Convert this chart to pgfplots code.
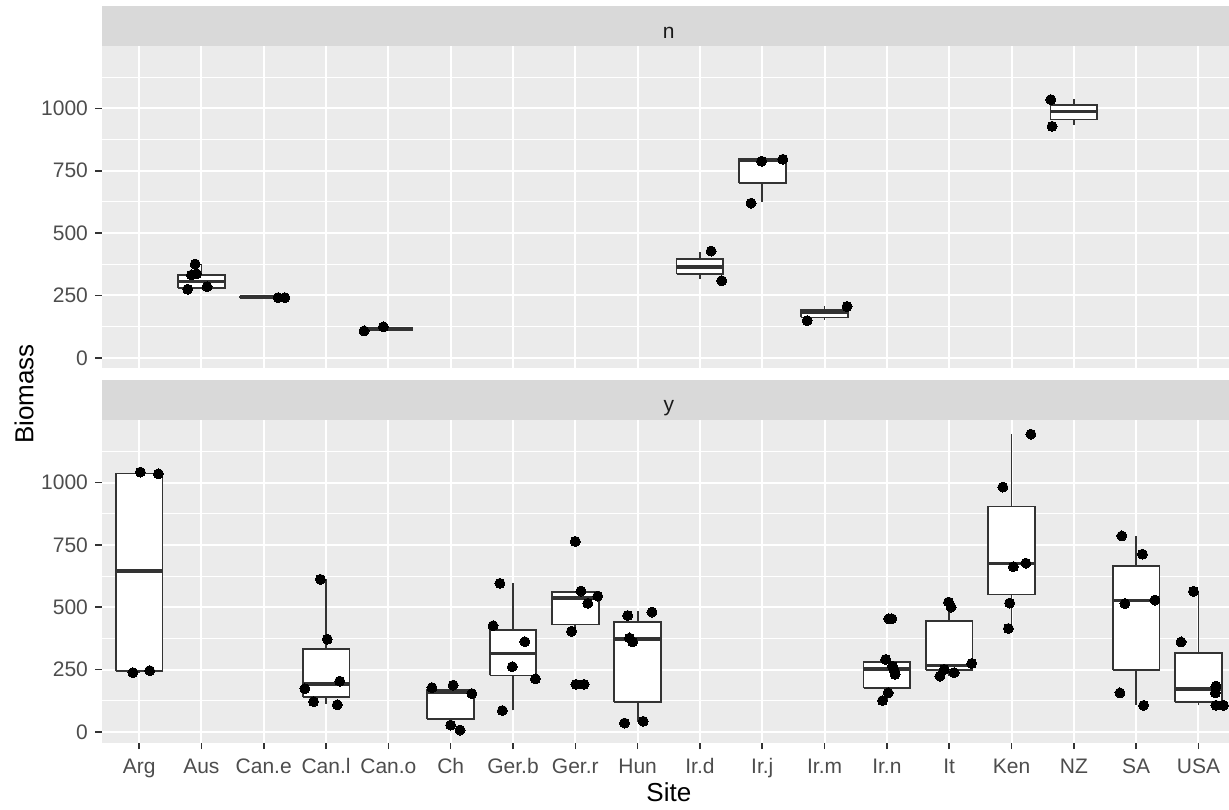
\documentclass[border=0pt]{standalone}
\usepackage{fontspec}
\setmainfont{Liberation Sans}
\usepackage{pgfplots}
\pgfplotsset{compat=1.18}
\definecolor{panelbg}{HTML}{EBEBEB}
\definecolor{stripbg}{HTML}{D9D9D9}
\definecolor{gray30}{HTML}{4D4D4D}
\definecolor{gray20}{HTML}{333333}
\definecolor{gray10}{HTML}{1A1A1A}
\pgfplotsset{
  facet/.style={
    scale only axis, width=563.65pt, height=161.15pt,
    anchor=south west,
    xmin=-0.6, xmax=17.49, ymin=-42, ymax=1250,
    axis background/.style={fill=panelbg},
    axis line style={draw=none},
    tick pos=left, tick align=outside,
    major tick length=3.3pt, minor tick length=0pt,
    every tick/.style={gray20, line width=0.8pt},
    xtick={0,...,17},
    ytick={0,250,500,750,1000},
    yticklabels={0,250,500,750,1000},
    minor ytick={125,375,625,875,1125},
    grid=both,
    major grid style={white, line width=1pt},
    minor grid style={white, line width=0.5pt},
    /pgf/number format/assume math mode=true,
    yticklabel style={font=\fontsize{10.5}{12}\selectfont, text=gray30, anchor=east, inner sep=0pt, xshift=-3.4pt},
    unbounded coords=jump,
  },
  whisk/.style={draw=gray20, line width=0.9pt, mark=none},
  boxs/.style={draw=gray20, fill=white, line width=0.9pt, mark=none},
  med/.style={draw=gray20, line width=1.8pt, mark=none},
  pts/.style={only marks, mark=*, mark size=2.5pt, mark options={draw=black, fill=black, line width=0pt}},
}
\begin{document}
\begin{tikzpicture}
\useasboundingbox (0,0) rectangle (614.5pt,404.5pt);
% ---------- top panel: n ----------
% site index: Aus 1, Can.e 2, Can.o 4, Ir.d 9, Ir.j 10, Ir.m 11, NZ 15
\begin{axis}[facet, at={(50.85pt,220.35pt)}, xticklabels={}, xtick style={draw=none}]
\addplot[whisk] coordinates {
(1,275) (1,376) (nan,nan)
(2,241) (2,245) (nan,nan)
(4,108) (4,124) (nan,nan)
(9,316) (9,426) (nan,nan)
(10,624) (10,796) (nan,nan)
(11,152) (11,206) (nan,nan)
(15,934) (15,1036)
};
\addplot[boxs] coordinates {
(0.625,279) (1.375,279) (1.375,332) (0.625,332) (0.625,279) (nan,nan)
(1.625,242) (2.375,242) (2.375,244) (1.625,244) (1.625,242) (nan,nan)
(3.625,112) (4.375,112) (4.375,120) (3.625,120) (3.625,112) (nan,nan)
(8.625,336) (9.375,336) (9.375,396) (8.625,396) (8.625,336) (nan,nan)
(9.625,702) (10.375,702) (10.375,796) (9.625,796) (9.625,702) (nan,nan)
(10.625,162) (11.375,162) (11.375,193) (10.625,193) (10.625,162) (nan,nan)
(14.625,955) (15.375,955) (15.375,1015) (14.625,1015) (14.625,955)
};
\addplot[med] coordinates {
(0.625,306) (1.375,306) (nan,nan)
(1.625,243) (2.375,243) (nan,nan)
(3.625,116) (4.375,116) (nan,nan)
(8.625,365) (9.375,365) (nan,nan)
(9.625,792) (10.375,792) (nan,nan)
(10.625,181) (11.375,181) (nan,nan)
(14.625,988) (15.375,988)
};
\addplot[pts] coordinates {
(0.78,275) (1.09,285) (0.84,332) (0.92,337) (0.90,376)
(2.23,241) (2.34,241)
(3.61,108) (3.92,124)
(9.18,428) (9.35,309)
(9.99,788) (10.33,796) (9.82,620)
(11.36,206) (10.72,149)
(14.63,1035) (14.65,928)
};
\end{axis}
% ---------- bottom panel: y ----------
% site index: Arg 0, Can.l 3, Ch 5, Ger.b 6, Ger.r 7, Hun 8, Ir.n 12, It 13, Ken 14, SA 16, USA 17
\begin{axis}[facet, at={(50.85pt,33.25pt)},
  xticklabels={Arg,Aus,Can.e,Can.l,Can.o,Ch,Ger.b,Ger.r,Hun,Ir.d,Ir.j,Ir.m,Ir.n,It,Ken,NZ,SA,USA},
  xticklabel style={font=\fontsize{10.5}{12}\selectfont, text=gray30, anchor=base, inner sep=0pt, yshift=-12.1pt}]
\addplot[whisk] coordinates {
(0,238) (0,1042) (nan,nan)
(3,114) (3,612) (nan,nan)
(5,12) (5,190) (nan,nan)
(6,87) (6,596) (nan,nan)
(7,404) (7,566) (nan,nan)
(8,40) (8,484) (nan,nan)
(12,127) (12,292) (nan,nan)
(13,225) (13,505) (nan,nan)
(14,416) (14,1196) (nan,nan)
(16,110) (16,786) (nan,nan)
(17,108) (17,564)
};
\addplot[boxs] coordinates {
(-0.375,246) (0.375,246) (0.375,1036) (-0.375,1036) (-0.375,246) (nan,nan)
(2.625,140) (3.375,140) (3.375,332) (2.625,332) (2.625,140) (nan,nan)
(4.625,52) (5.375,52) (5.375,170) (4.625,170) (4.625,52) (nan,nan)
(5.625,227) (6.375,227) (6.375,410) (5.625,410) (5.625,227) (nan,nan)
(6.625,431) (7.375,431) (7.375,560) (6.625,560) (6.625,431) (nan,nan)
(7.625,119) (8.375,119) (8.375,440) (7.625,440) (7.625,119) (nan,nan)
(11.625,176) (12.375,176) (12.375,282) (11.625,282) (11.625,176) (nan,nan)
(12.625,248) (13.375,248) (13.375,444) (12.625,444) (12.625,248) (nan,nan)
(13.625,551) (14.375,551) (14.375,904) (13.625,904) (13.625,551) (nan,nan)
(15.625,248) (16.375,248) (16.375,665) (15.625,665) (15.625,248) (nan,nan)
(16.625,119) (17.375,119) (17.375,318) (16.625,318) (16.625,119)
};
\addplot[med] coordinates {
(-0.375,645) (0.375,645) (nan,nan)
(2.625,192) (3.375,192) (nan,nan)
(4.625,158) (5.375,158) (nan,nan)
(5.625,315) (6.375,315) (nan,nan)
(6.625,538) (7.375,538) (nan,nan)
(7.625,372) (8.375,372) (nan,nan)
(11.625,253) (12.375,253) (nan,nan)
(12.625,267) (13.375,267) (nan,nan)
(13.625,675) (14.375,675) (nan,nan)
(15.625,527) (16.375,527) (nan,nan)
(16.625,173) (17.375,173)
};
\addplot[pts] coordinates {
(0.02,1042) (0.31,1035) (-0.10,238) (0.17,246)
(2.91,612) (3.02,372) (3.22,204) (2.66,174) (2.80,122) (3.18,109)
(4.70,178) (5.04,188) (5.34,154) (5.00,28) (5.15,8)
(5.79,596) (5.68,426) (5.99,262) (5.83,86) (6.19,362) (6.36,213)
(7.00,764) (7.09,565) (7.36,545) (7.20,516) (6.94,404) (7.01,191) (7.14,191)
(7.84,467) (8.23,481) (7.87,377) (7.92,361) (7.79,36) (8.09,43)
(12.03,454) (12.08,454) (11.98,291) (12.09,264) (12.13,231) (12.12,244) (12.02,157) (11.93,126)
(12.99,521) (13.03,501) (13.36,275) (12.92,251) (13.08,238) (12.85,224)
(14.31,1194) (13.86,982) (14.03,663) (14.23,677) (13.97,517) (13.95,415)
(15.77,786) (16.10,713) (15.82,515) (16.30,529) (15.74,157) (16.12,107)
(16.92,564) (16.72,361) (17.28,184) (17.27,157) (17.28,107) (17.40,107)
};
\end{axis}
% strips
\fill[stripbg] (50.85pt,381.5pt) rectangle (614.5pt,401.25pt);
\fill[stripbg] (50.85pt,194.4pt) rectangle (614.5pt,214.5pt);
\node[anchor=base, inner sep=0pt, font=\fontsize{10.5}{12}\selectfont, text=gray10] at (334.4pt,385.35pt) {n};
\node[anchor=base, inner sep=0pt, font=\fontsize{10.5}{12}\selectfont, text=gray10] at (334.4pt,198.6pt) {y};
% axis titles
\node[anchor=base, inner sep=0pt, font=\fontsize{13}{15}\selectfont] at (334.4pt,4pt) {Site};
\node[anchor=base, inner sep=0pt, rotate=90, font=\fontsize{13}{15}\selectfont] at (16.65pt,207.5pt) {Biomass};
\end{tikzpicture}
\end{document}
